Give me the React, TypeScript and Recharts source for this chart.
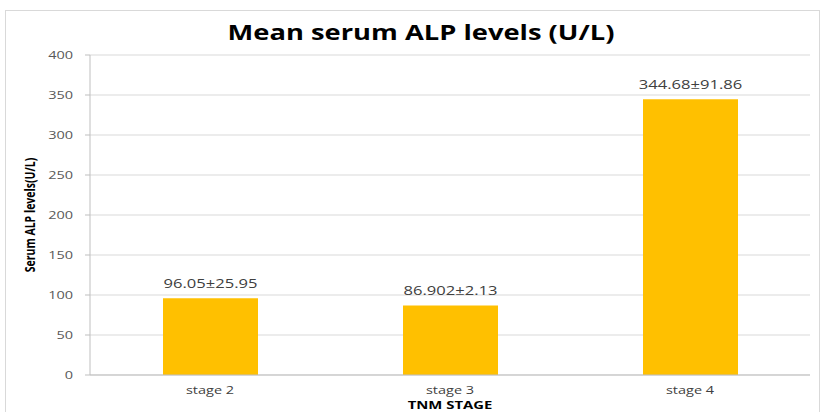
import React from "react";
import { BarChart, Bar, XAxis, YAxis, CartesianGrid, LabelList } from "recharts";

const stages = ["stage 2", "stage 3", "stage 4"];
const meanAlp = [96.05, 86.902, 344.68];
const barLabels = ["96.05±25.95", "86.902±2.13", "344.68±91.86"];
const yTicks = [0, 50, 100, 150, 200, 250, 300, 350, 400];

const data = stages.map((stage, i) => ({
  stage,
  value: meanAlp[i],
  label: barLabels[i],
}));

const FONT = "'Open Sans', 'Liberation Sans', sans-serif";
// the reference image is stretched sideways, so the texts are too
const SX = 1.38;

const StretchText = ({ x, y, text, anchor, size, fill, dy = 0 }: any) => (
  <text
    transform={`translate(${x} ${y}) scale(${SX} 1)`}
    textAnchor={anchor}
    fontSize={size}
    fontFamily={FONT}
    fill={fill}
    dy={dy}
  >
    {text}
  </text>
);

const YTick = (props: any) => (
  <StretchText
    x={props.x}
    y={props.y}
    text={props.payload.value}
    anchor="end"
    size={10.5}
    fill="#595959"
    dy="0.36em"
  />
);

const XTick = (props: any) => (
  <StretchText
    x={props.x}
    y={props.y}
    text={props.payload.value}
    anchor="middle"
    size={10.5}
    fill="#404040"
    dy="0.9em"
  />
);

const BarLabel = (props: any) => (
  <StretchText
    x={props.x + props.width / 2}
    y={props.y - 10}
    text={props.value}
    anchor="middle"
    size={12}
    fill="#404040"
  />
);

const App: React.FC = () => {
  return (
    <div style={{ position: "fixed", left: 0, top: 0, width: 824, height: 412, background: "#fff", overflow: "hidden" }}>
      <div
        style={{
          position: "absolute",
          left: 5,
          top: 10,
          width: 815,
          height: 410,
          border: "1px solid #d9d9d9",
          boxSizing: "border-box",
        }}
      />
      <div
        style={{
          position: "absolute",
          left: 0,
          top: 18,
          width: 842,
          textAlign: "center",
          fontFamily: FONT,
          fontWeight: 700,
          fontSize: 21,
          color: "#000",
          transform: "scaleX(1.3)",
          transformOrigin: "421px 0",
        }}
      >
        Mean serum ALP levels (U/L)
      </div>
      <div style={{ position: "absolute", left: 0, top: 0 }}>
        <BarChart
          width={824}
          height={412}
          data={data}
          margin={{ top: 55, right: 14, bottom: 0, left: 0 }}
        >
          <CartesianGrid vertical={false} stroke="#d9d9d9" />
          <XAxis
            dataKey="stage"
            height={37}
            tickLine={false}
            axisLine={{ stroke: "#bfbfbf" }}
            tick={<XTick />}
            tickMargin={4}
          />
          <YAxis
            width={90}
            domain={[0, 400]}
            ticks={yTicks}
            interval={0}
            tickSize={5}
            tickLine={{ stroke: "#bfbfbf" }}
            axisLine={{ stroke: "#bfbfbf" }}
            tick={<YTick />}
            tickMargin={12}
          />
          <Bar dataKey="value" fill="#FFC000" barSize={95} isAnimationActive={false}>
            <LabelList dataKey="label" content={<BarLabel />} />
          </Bar>
        </BarChart>
      </div>
      <div
        style={{
          position: "absolute",
          left: 350,
          top: 398,
          width: 200,
          textAlign: "center",
          fontFamily: FONT,
          fontWeight: 700,
          fontSize: 11,
          lineHeight: "14px",
          color: "#000",
          transform: "scaleX(1.35)",
        }}
      >
        TNM STAGE
      </div>
      <div
        style={{
          position: "absolute",
          left: 30 - 80,
          top: 215 - 7,
          width: 160,
          textAlign: "center",
          fontFamily: FONT,
          fontWeight: 700,
          fontSize: 10.5,
          lineHeight: "14px",
          color: "#000",
          transform: "rotate(-90deg) scaleY(1.3)",
        }}
      >
        Serum ALP levels(U/L)
      </div>
    </div>
  );
};

export default App;
